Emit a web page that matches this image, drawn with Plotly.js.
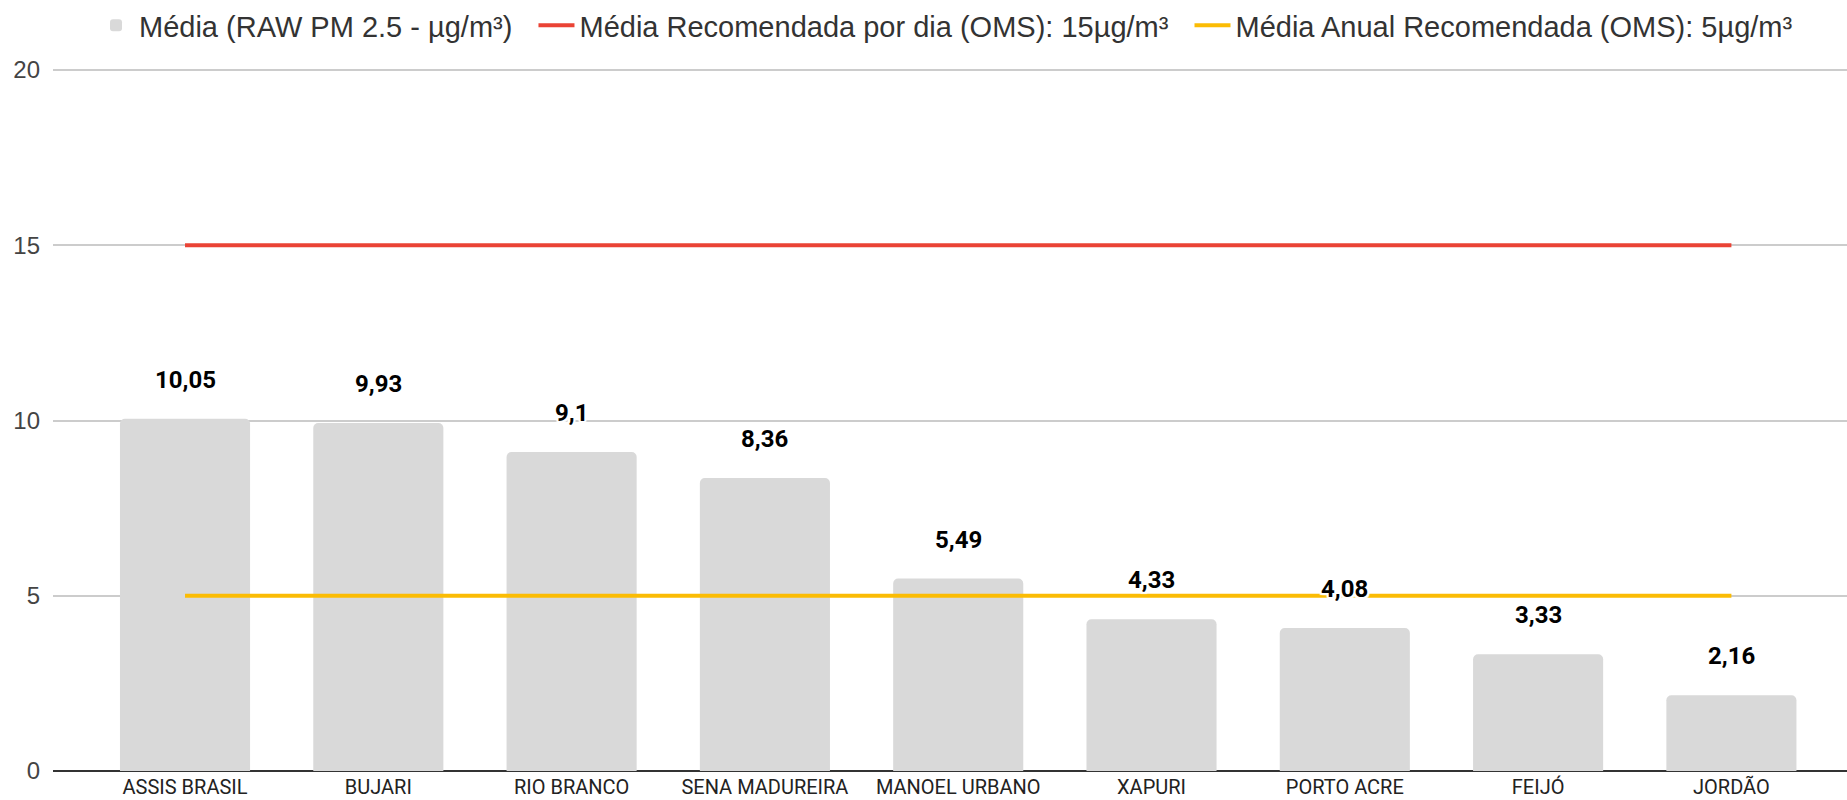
<!DOCTYPE html>
<html>
<head>
<meta charset="utf-8">
<script src="https://cdn.plot.ly/plotly-3.0.1.min.js"></script>
<style>html,body{margin:0;padding:0;background:#fff;}#chart{width:1847px;height:800px;}</style>
</head>
<body>
<div id="chart"></div>
<script>
const categories = ["ASSIS BRASIL","BUJARI","RIO BRANCO","SENA MADUREIRA","MANOEL URBANO","XAPURI","PORTO ACRE","FEIJÓ","JORDÃO"];
const mediaValues = [10.05, 9.93, 9.1, 8.36, 5.49, 4.33, 4.08, 3.33, 2.16];
const diaOMS = [15, 15, 15, 15, 15, 15, 15, 15, 15];
const anualOMS = [5, 5, 5, 5, 5, 5, 5, 5, 5];
const seriesNames = ["Média (RAW PM 2.5 - µg/m³)", "Média Recomendada por dia (OMS): 15µg/m³", "Média Anual Recomendada (OMS): 5µg/m³"];

const fmt = v => String(v).replace('.', ',');
const pad = '\u00a0\u00a0';

const traces = [
  {type:'bar', x:categories, y:mediaValues, name:seriesNames[0] + pad,
   marker:{color:'#d9d9d9', cornerradius:5}, width:0.673, hoverinfo:'x+y'},
  {type:'scatter', mode:'lines', x:categories, y:diaOMS, name:seriesNames[1] + pad,
   line:{color:'#ea4335', width:4}},
  {type:'scatter', mode:'lines', x:categories, y:anualOMS, name:seriesNames[2],
   line:{color:'#fbbc04', width:4}}
];

const halo = '2px 0 1px #fff, -2px 0 1px #fff, 0 2px 1px #fff, 0 -2px 1px #fff, 2px 2px 1px #fff, -2px -2px 1px #fff, 2px -2px 1px #fff, -2px 2px 1px #fff';
const annotations = categories.map((c, i) => ({
  x: c, y: mediaValues[i], xref:'x', yref:'y', text: fmt(mediaValues[i]),
  showarrow:false, yanchor:'bottom', yshift:23,
  font:{family:'Roboto, Arial, sans-serif', size:24, color:'#000', weight:700, shadow:halo}
}));

const layout = {
  width:1847, height:800,
  margin:{l:53, r:0, t:65, b:29, pad:0},
  paper_bgcolor:'#fff', plot_bgcolor:'#fff',
  showlegend:true,
  legend:{orientation:'h', x:0.0223, xanchor:'left', y:1.062, yanchor:'middle',
    font:{family:'Arial, "Liberation Sans", sans-serif', size:29, color:'#333'},
    itemwidth:36,
    traceorder:'normal', itemclick:false, bgcolor:'rgba(0,0,0,0)'},
  xaxis:{type:'category', range:[-0.683, 8.598], showgrid:false, zeroline:false,
    showline:false, ticks:'', ticklabelstandoff:2,
    tickfont:{family:'Roboto, Arial, sans-serif', size:20, color:'#222'}},
  yaxis:{range:[0,20.03], tickvals:[0,5,10,15,20], showgrid:true, gridcolor:'#cccccc', gridwidth:1.5,
    zeroline:true, zerolinecolor:'#333333', zerolinewidth:2, showline:false, ticks:'',
    ticklabelstandoff:12,
    tickfont:{family:'Arial, "Liberation Sans", sans-serif', size:24, color:'#444'}},
  annotations: annotations,
  bargap:0.33
};

Plotly.newPlot('chart', traces, layout, {displayModeBar:false, responsive:false});
</script>
</body>
</html>
